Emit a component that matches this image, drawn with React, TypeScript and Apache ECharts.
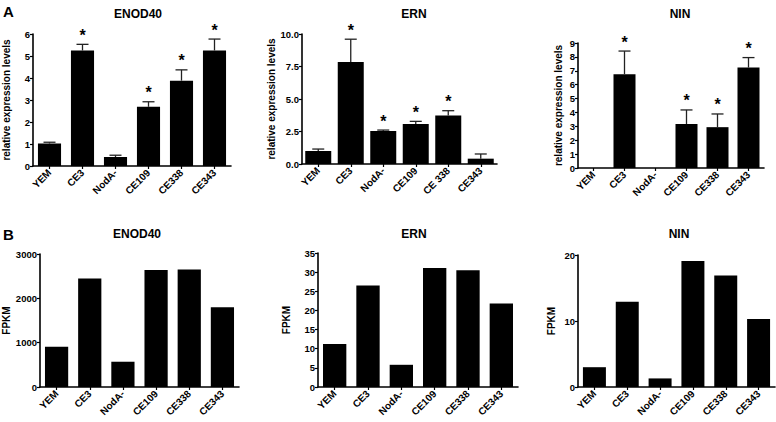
import React, { useEffect, useRef } from "react";
import * as echarts from "echarts";

const catsA1 = ["YEM", "CE3", "NodA-", "CE109", "CE338", "CE343"];
const catsA2 = ["YEM", "CE3", "NodA-", "CE109", "CE 338", "CE343"];
const catsA3 = ["YEM", "CE3", "NodA-", "CE109", "CE338", "CE343"];
const catsB = ["YEM", "CE3", "NodA-", "CE109", "CE338", "CE343"];

const enodA = [1.02, 5.25, 0.41, 2.69, 3.88, 5.25];
const enodAErr = [0.06, 0.28, 0.08, 0.23, 0.49, 0.52];
const enodAStar = [0, 1, 0, 1, 1, 1];

const ernA = [1.0, 7.85, 2.54, 3.08, 3.74, 0.41];
const ernAErr = [0.15, 1.75, 0.07, 0.2, 0.36, 0.36];
const ernAStar = [0, 1, 1, 1, 1, 0];

const ninA = [0, 6.75, 0, 3.17, 2.94, 7.23];
const ninAErr = [0, 1.67, 0, 1.01, 0.95, 0.72];
const ninAStar = [0, 1, 0, 1, 1, 1];

const enodB = [910, 2450, 570, 2640, 2650, 1800];
const ernB = [11.2, 26.5, 5.8, 31.1, 30.5, 21.8];
const ninB = [3.0, 12.9, 1.3, 19.1, 16.9, 10.3];

const FONT = "Liberation Sans, Arial, sans-serif";

export default function App() {
  const ref = useRef<HTMLDivElement>(null);
  useEffect(() => {
    if (!ref.current) return;
    const chart = echarts.init(ref.current, null, { renderer: "svg" });

    const grids = [
      { left: 31, right: 545, top: 34, bottom: 256 },
      { left: 302, right: 279, top: 34, bottom: 258 },
      { left: 578, right: 12, top: 43, bottom: 254 },
      { left: 40, right: 537, top: 254, bottom: 35 },
      { left: 318, right: 258, top: 253, bottom: 35 },
      { left: 578, right: 1, top: 255, bottom: 35 },
    ];
    const catsList = [catsA1, catsA2, catsA3, catsB, catsB, catsB];
    const yCfg = [
      { max: 6, interval: 1, name: "relative expression levels", gap: 22, fmt: (v: number) => String(v) },
      { max: 10, interval: 2.5, name: "relative expression levels", gap: 26, fmt: (v: number) => v.toFixed(1) },
      { max: 9, interval: 1, name: "relative expression levels", gap: 15, fmt: (v: number) => String(v) },
      { max: 3000, interval: 1000, name: "FPKM", gap: 29, fmt: (v: number) => String(v) },
      { max: 35, interval: 5, name: "FPKM", gap: 27, fmt: (v: number) => String(v) },
      { max: 20, interval: 10, name: "FPKM", gap: 22, fmt: (v: number) => String(v) },
    ];
    const barGaps = ["30%", "20%", "29%", "30%", "30%", "30%"];
    const values = [enodA, ernA, ninA, enodB, ernB, ninB];

    const axisLine = { show: true, lineStyle: { color: "#000", width: 1.6 } };
    const axisTick = { show: true, length: 3, lineStyle: { color: "#000", width: 1.2 } };

    const xAxis = grids.map((_, i) => ({
      type: "category",
      gridIndex: i,
      data: catsList[i],
      axisLine,
      axisTick: { ...axisTick, alignWithLabel: true },
      axisLabel: {
        rotate: 45,
        fontSize: 10,
        fontWeight: "bold",
        color: "#000",
        fontFamily: FONT,
        margin: 5,
        interval: 0,
      },
    }));
    const yAxis = grids.map((_, i) => ({
      type: "value",
      gridIndex: i,
      min: 0,
      max: yCfg[i].max,
      interval: yCfg[i].interval,
      name: yCfg[i].name,
      nameLocation: "middle",
      nameRotate: 90,
      nameGap: yCfg[i].gap,
      nameTextStyle: { fontSize: 10, fontWeight: "bold", color: "#000", fontFamily: FONT },
      axisLine,
      axisTick,
      splitLine: { show: false },
      axisLabel: {
        fontSize: 9.5,
        fontWeight: "bold",
        color: "#000",
        fontFamily: FONT,
        margin: 3,
        formatter: yCfg[i].fmt,
      },
    }));

    const series: any[] = values.map((v, i) => ({
      type: "bar",
      xAxisIndex: i,
      yAxisIndex: i,
      data: v,
      barCategoryGap: barGaps[i],
      itemStyle: { color: "#000" },
    }));

    const errSets = [
      [enodA, enodAErr, enodAStar],
      [ernA, ernAErr, ernAStar],
      [ninA, ninAErr, ninAStar],
    ];
    errSets.forEach(([v, e, s], i) => {
      series.push({
        type: "custom",
        xAxisIndex: i,
        yAxisIndex: i,
        z: 5,
        clip: false,
        data: v.map((val, k) => [k, val, e[k], s[k]]),
        renderItem: (params: any, api: any) => {
          const idx = api.value(0);
          const val = api.value(1);
          const err = api.value(2);
          const star = api.value(3);
          const children: any[] = [];
          const base = api.coord([idx, val]);
          const top = api.coord([idx, val + err]);
          if (err > 0) {
            children.push({
              type: "line",
              shape: { x1: top[0], y1: base[1], x2: top[0], y2: top[1] },
              style: { stroke: "#222", lineWidth: 1.3 },
            });
            children.push({
              type: "line",
              shape: { x1: top[0] - 6, y1: top[1], x2: top[0] + 6, y2: top[1] },
              style: { stroke: "#222", lineWidth: 1.3 },
            });
          }
          if (star) {
            children.push({
              type: "text",
              style: {
                text: "*",
                x: top[0],
                y: top[1] - 1,
                align: "center",
                verticalAlign: "bottom",
                fontSize: 16,
                fontWeight: "bold",
                fill: "#000",
                fontFamily: FONT,
              },
            });
          }
          return { type: "group", children };
        },
      });
    });

    const titleStyle = { fontSize: 12, fontWeight: "bold", color: "#000", fontFamily: FONT };
    const titles = [
      { text: "ENOD40", x: 138, y: 8 },
      { text: "ERN", x: 414, y: 8 },
      { text: "NIN", x: 680, y: 8 },
      { text: "ENOD40", x: 137, y: 228 },
      { text: "ERN", x: 414, y: 228 },
      { text: "NIN", x: 679, y: 228 },
    ];

    chart.setOption({
      animation: false,
      backgroundColor: "#fff",
      title: [
        ...titles.map((t) => ({
          text: t.text,
          left: t.x,
          top: t.y,
          textAlign: "center",
          padding: 0,
          textStyle: titleStyle,
        })),
        { text: "A", left: 3, top: 4, padding: 0, textStyle: { fontSize: 15, fontWeight: "bold", color: "#000", fontFamily: FONT } },
        { text: "B", left: 3, top: 227, padding: 0, textStyle: { fontSize: 15, fontWeight: "bold", color: "#000", fontFamily: FONT } },
      ],
      grid: grids.map((g) => ({ ...g, containLabel: false })),
      xAxis,
      yAxis,
      series,
    });
    return () => chart.dispose();
  }, []);
  return (
    <div
      ref={ref}
      style={{ position: "fixed", left: 0, top: 0, width: 776, height: 422, background: "#fff" }}
    />
  );
}
